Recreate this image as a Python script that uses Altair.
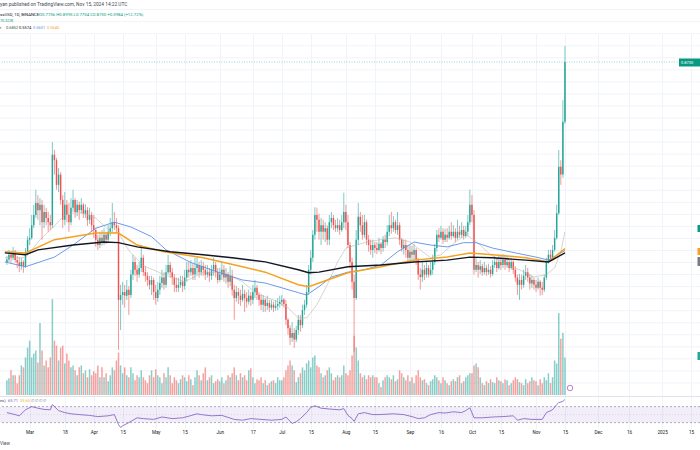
import altair as alt
import pandas as pd

# ---------------- data ----------------
FIRST_DATE = "2024-02-19"
FIRST_OPEN = 0.541

CLOSE = [0.545,
 0.553, 0.548, 0.558, 0.544, 0.540, 0.534, 0.541, 0.534, 0.558, 0.578,
 0.581, 0.602, 0.619, 0.639, 0.627, 0.636, 0.607, 0.624, 0.614, 0.607, 0.602,
 0.719, 0.710, 0.669, 0.686, 0.644, 0.611, 0.636, 0.619, 0.607, 0.631,
 0.644, 0.624, 0.636, 0.627, 0.636, 0.621, 0.627, 0.611, 0.619, 0.602,
 0.594, 0.578, 0.569, 0.581, 0.574, 0.586, 0.578, 0.591, 0.597, 0.607,
 0.602, 0.597, 0.478, 0.486, 0.491, 0.485, 0.495, 0.486, 0.520, 0.541,
 0.528, 0.520, 0.531, 0.548, 0.524, 0.518, 0.511, 0.503, 0.511, 0.491,
 0.481, 0.495, 0.506, 0.515, 0.503, 0.524, 0.536, 0.524, 0.515, 0.503,
 0.498, 0.503, 0.508, 0.501, 0.515, 0.528, 0.524, 0.531, 0.520, 0.531,
 0.536, 0.524, 0.534, 0.528, 0.520, 0.524, 0.518, 0.528, 0.536, 0.524, 0.511,
 0.520, 0.528, 0.515, 0.521, 0.508, 0.518, 0.495, 0.481, 0.491, 0.485,
 0.478, 0.488, 0.481, 0.475, 0.485, 0.478, 0.491, 0.498, 0.486, 0.478,
 0.470, 0.478, 0.468, 0.473, 0.465, 0.470, 0.465, 0.468, 0.471, 0.475,
 0.478, 0.471, 0.445, 0.431, 0.415, 0.423, 0.412, 0.428, 0.445, 0.436,
 0.461, 0.470, 0.491, 0.528, 0.548, 0.586, 0.619, 0.611, 0.591, 0.602,
 0.591, 0.597, 0.578, 0.607, 0.614, 0.602, 0.597, 0.602, 0.594, 0.607, 0.624,
 0.607, 0.569, 0.541, 0.508, 0.481, 0.578, 0.616, 0.602, 0.586, 0.607, 0.578, 0.569, 0.561, 0.569,
 0.564,
 0.561, 0.571, 0.564, 0.578, 0.574, 0.591, 0.602, 0.597, 0.607, 0.594, 0.602, 0.578, 0.564, 0.569, 0.561, 0.548,
 0.558, 0.553, 0.561, 0.544, 0.520, 0.516, 0.528, 0.520, 0.531, 0.520,
 0.528, 0.541, 0.564, 0.586, 0.581, 0.591, 0.578, 0.586, 0.581, 0.591,
 0.584, 0.591, 0.581, 0.591, 0.586, 0.594, 0.584, 0.591, 0.607, 0.636,
 0.619, 0.528, 0.536, 0.528, 0.534, 0.524, 0.531, 0.524, 0.528, 0.521,
 0.536, 0.541, 0.531, 0.541, 0.536, 0.544, 0.536, 0.541, 0.531, 0.541,
 0.528, 0.515, 0.503, 0.511, 0.503, 0.518, 0.524, 0.515, 0.505, 0.511, 0.503,
 0.498, 0.508, 0.498, 0.495, 0.515, 0.541, 0.553, 0.548, 0.561, 0.581,
 0.622, 0.699, 0.686, 0.7736, 0.8730]

HIGH = [0.551,
 0.561, 0.558, 0.566, 0.561, 0.551, 0.548, 0.548, 0.544, 0.564, 0.584,
 0.597, 0.619, 0.636, 0.661, 0.652, 0.647, 0.644, 0.636, 0.631, 0.624, 0.619,
 0.740, 0.727, 0.714, 0.697, 0.690, 0.652, 0.657, 0.644, 0.639, 0.647,
 0.661, 0.647, 0.644, 0.641, 0.647, 0.639, 0.637, 0.632, 0.631, 0.624,
 0.619, 0.597, 0.586, 0.591, 0.594, 0.597, 0.591, 0.602, 0.614, 0.639,
 0.624, 0.614, 0.602, 0.503, 0.508, 0.503, 0.511, 0.501, 0.528, 0.553,
 0.548, 0.536, 0.541, 0.569, 0.553, 0.534, 0.524, 0.518, 0.518, 0.515,
 0.503, 0.508, 0.518, 0.528, 0.524, 0.536, 0.553, 0.541, 0.531, 0.521,
 0.515, 0.515, 0.518, 0.518, 0.528, 0.541, 0.541, 0.544, 0.538, 0.548,
 0.551, 0.541, 0.544, 0.541, 0.536, 0.536, 0.531, 0.536, 0.548, 0.541, 0.531,
 0.531, 0.541, 0.536, 0.531, 0.524, 0.534, 0.528, 0.503, 0.501, 0.498,
 0.495, 0.503, 0.495, 0.491, 0.495, 0.491, 0.503, 0.511, 0.503, 0.491,
 0.488, 0.486, 0.481, 0.485, 0.478, 0.478, 0.475, 0.478, 0.481, 0.485,
 0.486, 0.481, 0.478, 0.448, 0.436, 0.441, 0.431, 0.435, 0.453, 0.453,
 0.470, 0.478, 0.503, 0.536, 0.561, 0.594, 0.632, 0.631, 0.621, 0.614,
 0.611, 0.607, 0.602, 0.619, 0.624, 0.619, 0.611, 0.614, 0.611, 0.619, 0.656,
 0.636, 0.619, 0.574, 0.548, 0.520, 0.594, 0.639, 0.624, 0.619, 0.619, 0.611, 0.586, 0.578, 0.578,
 0.574,
 0.574, 0.581, 0.574, 0.584, 0.586, 0.602, 0.619, 0.624, 0.617, 0.611, 0.624, 0.607, 0.581, 0.578, 0.578, 0.569,
 0.569, 0.568, 0.571, 0.564, 0.548, 0.531, 0.541, 0.536, 0.541, 0.536,
 0.541, 0.553, 0.571, 0.594, 0.597, 0.601, 0.597, 0.596, 0.597, 0.601,
 0.607, 0.602, 0.597, 0.611, 0.601, 0.607, 0.601, 0.601, 0.619, 0.661,
 0.652, 0.627, 0.548, 0.541, 0.544, 0.538, 0.541, 0.536, 0.538, 0.534,
 0.544, 0.551, 0.548, 0.553, 0.551, 0.554, 0.553, 0.551, 0.548, 0.548,
 0.544, 0.534, 0.520, 0.521, 0.520, 0.528, 0.536, 0.531, 0.521, 0.518, 0.515,
 0.511, 0.515, 0.511, 0.508, 0.520, 0.548, 0.561, 0.561, 0.569, 0.594,
 0.636, 0.727, 0.710, 0.810, 0.8995]

LOW = [0.536,
 0.541, 0.540, 0.544, 0.540, 0.531, 0.524, 0.528, 0.523, 0.531, 0.553,
 0.569, 0.578, 0.597, 0.614, 0.611, 0.602, 0.578, 0.597, 0.602, 0.591, 0.594,
 0.597, 0.686, 0.661, 0.657, 0.636, 0.597, 0.602, 0.607, 0.591, 0.602,
 0.624, 0.614, 0.617, 0.611, 0.621, 0.614, 0.614, 0.601, 0.604, 0.591,
 0.581, 0.566, 0.561, 0.564, 0.568, 0.569, 0.571, 0.574, 0.584, 0.591,
 0.594, 0.591, 0.395, 0.428, 0.470, 0.465, 0.478, 0.453, 0.481, 0.511,
 0.518, 0.508, 0.515, 0.524, 0.518, 0.508, 0.501, 0.495, 0.486, 0.478,
 0.470, 0.475, 0.486, 0.498, 0.495, 0.498, 0.520, 0.515, 0.503, 0.491,
 0.491, 0.491, 0.498, 0.491, 0.495, 0.508, 0.515, 0.518, 0.511, 0.511,
 0.520, 0.515, 0.518, 0.518, 0.511, 0.515, 0.508, 0.511, 0.518, 0.515, 0.505,
 0.508, 0.511, 0.508, 0.505, 0.498, 0.501, 0.485, 0.445, 0.475, 0.471,
 0.468, 0.475, 0.458, 0.465, 0.470, 0.468, 0.471, 0.481, 0.478, 0.468,
 0.461, 0.458, 0.458, 0.461, 0.458, 0.461, 0.458, 0.460, 0.461, 0.465,
 0.468, 0.465, 0.436, 0.420, 0.403, 0.408, 0.398, 0.408, 0.420, 0.425,
 0.431, 0.453, 0.465, 0.486, 0.520, 0.541, 0.578, 0.591, 0.578, 0.569,
 0.578, 0.574, 0.569, 0.569, 0.597, 0.594, 0.591, 0.591, 0.586, 0.591, 0.597,
 0.594, 0.564, 0.531, 0.495, 0.392, 0.478, 0.569, 0.591, 0.578, 0.581, 0.569, 0.558, 0.553, 0.548,
 0.556,
 0.554, 0.558, 0.554, 0.558, 0.564, 0.568, 0.584, 0.588, 0.591, 0.588, 0.586, 0.569, 0.558, 0.553, 0.548, 0.541,
 0.541, 0.544, 0.541, 0.536, 0.511, 0.495, 0.508, 0.511, 0.515, 0.515,
 0.518, 0.520, 0.536, 0.558, 0.574, 0.578, 0.571, 0.574, 0.574, 0.578,
 0.578, 0.581, 0.574, 0.578, 0.581, 0.581, 0.578, 0.581, 0.584, 0.602,
 0.607, 0.520, 0.524, 0.515, 0.521, 0.518, 0.520, 0.518, 0.520, 0.515,
 0.518, 0.531, 0.524, 0.528, 0.528, 0.531, 0.528, 0.531, 0.524, 0.528,
 0.521, 0.508, 0.486, 0.478, 0.495, 0.498, 0.511, 0.508, 0.495, 0.498, 0.495,
 0.491, 0.495, 0.485, 0.486, 0.491, 0.511, 0.538, 0.541, 0.544, 0.558,
 0.578, 0.619, 0.669, 0.681, 0.7704]

VOLUME = [15,
 17, 25, 20, 20, 12, 20, 30, 28, 38, 48,
 55, 38, 42, 45, 33, 73, 45, 30, 35, 28, 38,
 97, 55, 50, 35, 48, 50, 32, 42, 35, 28,
 30, 25, 20, 28, 30, 22, 25, 18, 26, 20,
 24, 22, 30, 18, 28, 18, 22, 14, 20, 28,
 25, 35, 43, 30, 22, 28, 20, 18, 28, 22,
 15, 20, 18, 25, 18, 15, 12, 20, 25, 18,
 26, 20, 18, 12, 22, 18, 28, 20, 12, 18,
 15, 12, 16, 20, 18, 14, 20, 16, 10, 18,
 25, 20, 15, 22, 28, 15, 18, 20, 12, 14, 16,
 14, 18, 12, 15, 20, 18, 22, 28, 20, 15,
 22, 18, 20, 15, 25, 27, 18, 12, 16, 15,
 18, 12, 15, 10, 12, 14, 15, 12, 18, 15,
 15, 18, 25, 30, 35, 30, 25, 13, 18, 22,
 28, 25, 32, 35, 28, 38, 40, 30, 28, 22,
 18, 20, 25, 28, 22, 15, 18, 20, 18, 20, 30,
 22, 20, 25, 40, 60, 48, 35, 22, 18, 20, 16, 20, 18, 20,
 18,
 18, 12, 8, 15, 18, 20, 18, 16, 20, 14, 16, 25, 22, 18, 15, 20,
 14, 18, 12, 20, 25, 18, 15, 16, 12, 10,
 14, 16, 20, 18, 15, 12, 18, 15, 12, 10,
 14, 16, 14, 18, 20, 12, 14, 18, 20, 22,
 22, 30, 32, 28, 18, 12, 10, 14, 12, 16,
 13, 12, 18, 15, 14, 12, 16, 15, 10, 12,
 15, 18, 16, 13, 12, 10, 16, 12, 14, 18, 15,
 14, 10, 16, 12, 18, 15, 22, 12, 18, 35,
 32, 83, 57, 63, 38]

# moving averages, read as (days after 2024-02-20, value)
MA_REF = "2024-02-20"
MA_BLACK_DAY = [-2, 8, 14, 31, 46, 53, 62, 78, 94, 108, 124, 140, 145, 150, 164, 180, 196, 212, 223, 234, 250, 261, 269]
MA_BLACK = [0.556, 0.553, 0.561, 0.569, 0.574, 0.573, 0.566, 0.558, 0.553, 0.548, 0.541, 0.528, 0.523, 0.524,
            0.533, 0.536, 0.541, 0.544, 0.549, 0.548, 0.544, 0.541, 0.556]
MA_ORANGE_DAY = [-2, 8, 22, 31, 42, 53, 62, 75, 94, 113, 124, 140, 145, 150, 164, 180, 196, 212, 223, 234, 250, 261, 269]
MA_ORANGE = [0.558, 0.556, 0.578, 0.583, 0.589, 0.589, 0.569, 0.558, 0.548, 0.533, 0.524, 0.503, 0.500, 0.506,
             0.523, 0.533, 0.544, 0.549, 0.556, 0.553, 0.548, 0.541, 0.563]
MA_BLUE_DAY = [-2, 8, 22, 31, 42, 51, 59, 69, 76, 88, 102, 113, 124, 140, 144, 150, 156, 164, 172, 180,
               188, 196, 204, 212, 220, 226, 234, 245, 255, 261, 269]
MA_BLUE = [0.541, 0.533, 0.549, 0.569, 0.597, 0.607, 0.599, 0.583, 0.561, 0.540, 0.523, 0.511, 0.506, 0.490,
           0.486, 0.500, 0.516, 0.524, 0.528, 0.536, 0.558, 0.574, 0.569, 0.566, 0.573, 0.573, 0.564, 0.556,
           0.549, 0.544, 0.560]
MA_THIN_DAY = [-2, 8, 15, 21, 27, 34, 42, 49, 53, 58, 65, 75, 85, 94, 104, 113, 120, 128, 135, 140,
               144, 149, 154, 159, 163, 168, 173, 180, 187, 194, 199, 204, 209, 216, 221, 225, 233, 240,
               247, 254, 260, 264, 267, 269]
MA_THIN = [0.548, 0.548, 0.578, 0.597, 0.619, 0.624, 0.614, 0.591, 0.589, 0.560, 0.535, 0.520, 0.508, 0.524,
           0.523, 0.508, 0.488, 0.478, 0.465, 0.448, 0.448, 0.470, 0.503, 0.541, 0.564, 0.569, 0.574, 0.578,
           0.581, 0.574, 0.561, 0.548, 0.553, 0.574, 0.586, 0.578, 0.553, 0.536, 0.528, 0.516, 0.520, 0.531,
           0.558, 0.591]

RSI_DAY = [-1, 3, 5, 8, 11, 14, 17, 20, 21, 22, 24, 27, 30, 34, 39, 43, 48, 51, 53, 54, 55, 58, 62, 65, 70,
           74, 79, 84, 87, 91, 93, 98, 103, 109, 113, 117, 122, 127, 132, 134, 137, 139, 141, 144, 146, 148,
           151, 155, 160, 162, 164, 166, 167, 169, 172, 176, 179, 186, 191, 195, 198, 201, 204, 208, 211, 215,
           219, 221, 223, 225, 229, 234, 239, 244, 246, 249, 253, 258, 260, 263, 265, 266, 268, 269]
RSI = [55, 50, 47, 62, 70, 66, 63, 62, 75, 70, 60, 55, 52, 50, 48, 45, 47, 50, 25, 18, 22, 30, 42, 40, 38,
       44, 40, 42, 46, 52, 50, 47, 48, 38, 36, 40, 38, 36, 38, 44, 28, 32, 40, 55, 68, 72, 66, 64, 62, 65,
       48, 40, 33, 52, 55, 50, 50, 52, 50, 45, 40, 42, 50, 55, 54, 57, 55, 60, 67, 42, 42, 44, 45, 47, 36,
       40, 38, 38, 55, 62, 75, 80, 83, 88]

TICK_DATES = ["2024-03-01", "2024-03-18", "2024-04-01", "2024-04-15", "2024-05-01", "2024-05-15",
              "2024-06-01", "2024-06-17", "2024-07-01", "2024-07-15", "2024-08-01", "2024-08-15",
              "2024-09-01", "2024-09-16", "2024-10-01", "2024-10-15", "2024-11-01", "2024-11-15",
              "2024-12-01", "2024-12-16", "2025-01-01", "2025-01-15"]
PRICE_GRID = [round(0.34 + 0.02 * i, 2) for i in range(32)]

# ---------------- tables ----------------
dates = pd.date_range(FIRST_DATE, periods=len(CLOSE), freq="D")
opens = [FIRST_OPEN] + CLOSE[:-1]
candles = pd.DataFrame({
    "date": dates.strftime("%Y-%m-%d"),
    "open": opens,
    "close": CLOSE,
    "high": [max(h, o, c) for h, o, c in zip(HIGH, opens, CLOSE)],
    "low": [min(l, o, c) for l, o, c in zip(LOW, opens, CLOSE)],
    "vol": VOLUME,
})
candles["dir"] = ["up" if c >= o else "down" for o, c in zip(opens, CLOSE)]


def day_frame(days, vals):
    base = pd.Timestamp(MA_REF)
    return pd.DataFrame({"date": [(base + pd.Timedelta(days=d)).strftime("%Y-%m-%d") for d in days],
                         "v": vals})


def dt(s, hours=0):
    y, m, d = (int(p) for p in s.split("-"))
    return alt.DateTime(year=y, month=m, date=d, hours=hours, utc=True)


X_SCALE = alt.Scale(type="utc", domain=[dt("2024-02-18", 2), dt("2025-01-16", 22)])
X_AXIS = alt.Axis(values=[dt(s) for s in TICK_DATES], grid=True, gridColor="#f0f3fa", gridWidth=1,
                  ticks=False, domain=False, labelFontSize=4.6, labelColor="#131722", labelPadding=0.5,
                  labelFont="Roboto", labelOverlap=False, labelFlush=False, title=None,
                  labelExpr="utcdate(datum.value) == 1 ? (utcmonth(datum.value) == 0 ? utcFormat(datum.value, '%Y') : utcFormat(datum.value, '%b')) : '' + utcdate(datum.value)")
X = alt.X("date:T", scale=X_SCALE, axis=X_AXIS)

PRICE_SCALE = alt.Scale(domain=[0.320, 0.976], range=[395, 0], zero=False, nice=False)
VOL_SCALE = alt.Scale(domain=[0, 400], range=[395, 0], nice=False)
RSI_SCALE = alt.Scale(domain=[14, 94], range=[429, 397], zero=False, nice=False)
COLOR = alt.Color("dir:N", scale=alt.Scale(domain=["up", "down"], range=["#26a69a", "#ef5350"]), legend=None)

one = pd.DataFrame({"a": [0]})

grid = alt.Chart(pd.DataFrame({"p": PRICE_GRID})).mark_rule(color="#f0f3fa", strokeWidth=1).encode(
    y=alt.Y("p:Q", scale=PRICE_SCALE, axis=None))

rsi_band = alt.Chart(pd.DataFrame({"hi": [70], "lo": [30]})).mark_rect(color="#7e57c2", opacity=0.1).encode(
    x=alt.value(0), x2=alt.value(700), y=alt.Y("hi:Q", scale=RSI_SCALE, axis=None), y2="lo:Q")
rsi_lines = alt.Chart(pd.DataFrame({"v": [70, 30]})).mark_rule(
    color="#787b86", strokeWidth=0.6, strokeDash=[2, 2]).encode(y=alt.Y("v:Q", scale=RSI_SCALE, axis=None))
rsi_mid = alt.Chart(pd.DataFrame({"v": [50]})).mark_rule(
    color="#787b86", strokeWidth=0.5, strokeDash=[1, 2], opacity=0.4).encode(y=alt.Y("v:Q", scale=RSI_SCALE, axis=None))
rsi_line = alt.Chart(day_frame(RSI_DAY, RSI)).mark_line(color="#7e57c2", strokeWidth=0.8).encode(
    x=X, y=alt.Y("v:Q", scale=RSI_SCALE, axis=None))

sep = alt.Chart(one).mark_rule(color="#e0e3eb", strokeWidth=1).encode(
    x=alt.value(0), x2=alt.value(700), y=alt.value(396.5))

volume = alt.Chart(candles).mark_bar(width=1.5, opacity=0.55).encode(
    x=X, y=alt.Y("vol:Q", scale=VOL_SCALE, axis=None), color=COLOR)

wicks = alt.Chart(candles).mark_rule(strokeWidth=0.6).encode(
    x=X, y=alt.Y("low:Q", scale=PRICE_SCALE, axis=None), y2="high:Q", color=COLOR)
bodies = alt.Chart(candles).mark_bar(width=1.45).encode(
    x=X, y=alt.Y("open:Q", scale=PRICE_SCALE, axis=None), y2="close:Q", color=COLOR)


def ma(days, vals, color, width, opacity=1.0):
    return alt.Chart(day_frame(days, vals)).mark_line(color=color, strokeWidth=width, opacity=opacity).encode(
        x=X, y=alt.Y("v:Q", scale=PRICE_SCALE, axis=None))


ma_thin = ma(MA_THIN_DAY, MA_THIN, "#b9b2a6", 0.7, 0.8)
ma_blue = ma(MA_BLUE_DAY, MA_BLUE, "#5b8fe8", 0.9)
ma_orange = ma(MA_ORANGE_DAY, MA_ORANGE, "#f5a21e", 1.5)
ma_black = ma(MA_BLACK_DAY, MA_BLACK, "#131722", 1.4)

last_line = alt.Chart(pd.DataFrame({"p": [CLOSE[-1]]})).mark_rule(
    color="#089981", strokeWidth=0.7, strokeDash=[1, 1.5], opacity=0.6).encode(
    y=alt.Y("p:Q", scale=PRICE_SCALE, axis=None))


def box(x1, x2, y1, y2, color):
    return alt.Chart(one).mark_rect(color=color).encode(
        x=alt.value(x1), x2=alt.value(x2), y=alt.value(y1), y2=alt.value(y2))


def txt(s, x, y, color, size=4.2):
    return alt.Chart(pd.DataFrame({"t": [s]})).mark_text(
        align="left", baseline="middle", fontSize=size, color=color, font="Roboto").encode(
        x=alt.value(x), y=alt.value(y), text="t:N")


price_box = box(679, 700, 58.5, 66.5, "#089981")
price_txt = txt("0.8730", 681, 62.5, "#ffffff", 4.0)
edge_marks = [box(697.5, 700, 225, 232, "#089981"), box(697.5, 700, 248, 255, "#f5a21e"),
              box(697.5, 700, 257, 266, "#787b86"), box(697.5, 700, 352, 360, "#26a69a")]

event = alt.Chart(one).mark_point(shape="circle", size=30, filled=False, color="#ab47bc", strokeWidth=1).encode(
    x=alt.value(570), y=alt.value(388))

texts = [
    txt("yan published on TradingView.com, Nov 15, 2024 14:22 UTC", 0, 5, "#434651", 4.8),
    txt("ssUSD, 1D, BINANCE", 0, 15, "#131722", 4.3),
    txt("O0.7736  H0.8995  L0.7704  C0.8730  +0.0984 (+12.72%)", 39, 15, "#089981", 4.3),
    txt("70.322K", 0, 21, "#089981", 3.6),
    txt("r", 0, 27.5, "#131722", 4.0),
    txt("0.6852", 6, 27.5, "#3a5a40", 4.0),
    txt("0.5574", 19, 27.5, "#131722", 4.0),
    txt("0.5601", 33, 27.5, "#5b8fe8", 4.0),
    txt("0.5645", 47, 27.5, "#f5a21e", 4.0),
    txt("es)", 0, 400.5, "#434651", 4.0),
    txt("65.71", 8, 400.5, "#7e57c2", 4.0),
    txt("33.65", 20, 400.5, "#e8b923", 4.0),
    txt("\u2205  \u2205  \u2205  \u2205", 31, 400.5, "#787b86", 4.0),
    txt("View", 0, 443.5, "#434651", 4.6),
]

chart = alt.layer(
    grid, rsi_band, rsi_mid, rsi_lines, volume, wicks, bodies,
    ma_thin, ma_blue, ma_orange, ma_black, rsi_line, last_line, sep,
    price_box, price_txt, *edge_marks, event, *texts,
).resolve_scale(y="independent").properties(
    width=700, height=429,
    padding={"left": 0, "right": 0, "top": 0, "bottom": 21},
    autosize=alt.AutoSizeParams(type="none"),
    background="#ffffff",
).configure_view(strokeWidth=0)

chart.save("out.html", embed_options={"renderer": "svg", "actions": False})
